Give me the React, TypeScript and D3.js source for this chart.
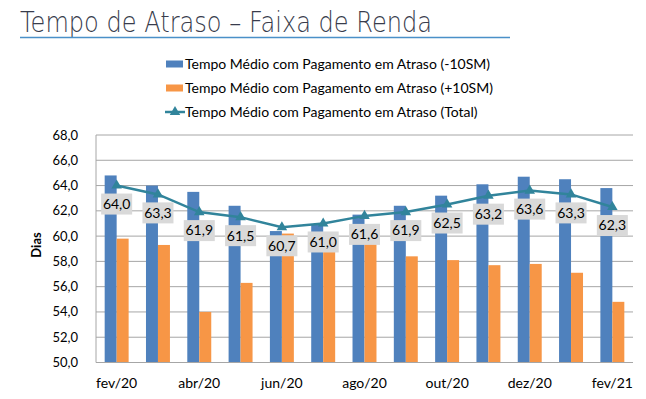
import React from "react";
import * as d3 from "d3";

const categories = ["fev/20","mar/20","abr/20","mai/20","jun/20","jul/20","ago/20","set/20","out/20","nov/20","dez/20","jan/21","fev/21"];
const tickLabels = ["fev/20","abr/20","jun/20","ago/20","out/20","dez/20","fev/21"];
const seriesLow = [64.8, 64.0, 63.5, 62.4, 60.4, 60.9, 61.7, 62.4, 63.2, 64.1, 64.7, 64.5, 63.8];
const seriesHigh = [59.8, 59.3, 54.0, 56.3, 60.2, 58.8, 59.4, 58.4, 58.1, 57.7, 57.8, 57.1, 54.8];
const seriesTotal = [64.0, 63.3, 61.9, 61.5, 60.7, 61.0, 61.6, 61.9, 62.5, 63.2, 63.6, 63.3, 62.3];
const yTicks = [50, 52, 54, 56, 58, 60, 62, 64, 66, 68];
const legendLabels = [
  "Tempo Médio com Pagamento em Atraso (-10SM)",
  "Tempo Médio com Pagamento em Atraso (+10SM)",
  "Tempo Médio com Pagamento em Atraso (Total)",
];

const W = 646, H = 399;
const L = 96, R = 633, T = 135, B = 362.5;
const BLUE = "#4F81BD", ORANGE = "#F79646", TEAL = "#31849B";
const FONT = "Lato, 'Open Sans', sans-serif";

const fmt = (v: number) => v.toFixed(1).replace(".", ",");

export default function App() {
  const x = d3.scaleBand<string>().domain(categories).range([L, R]).paddingInner(0.42).paddingOuter(0.21);
  const x1 = d3.scaleBand<string>().domain(["low", "high"]).range([0, x.bandwidth()]);
  const y = d3.scaleLinear().domain([50, 68]).range([B, T]);
  const cx = (c: string) => (x(c) as number) + x.bandwidth() / 2;
  const line = d3.line<number>().x((_, i) => cx(categories[i])).y((v) => y(v));
  const tri = d3.symbol().type(d3.symbolTriangle).size(48)();

  return (
    <svg width={W} height={H} style={{ position: "absolute", left: 0, top: 0, background: "#fff" }}>
      <rect x={0} y={0} width={W} height={H} fill="#fff" />
      {/* Title */}
      <text x={20} y={32} fontFamily="'DejaVu Sans', sans-serif" fontWeight={200} fontSize={28} fill="#383C4C" textLength={412} lengthAdjust="spacingAndGlyphs">
        Tempo de Atraso – Faixa de Renda
      </text>
      <line x1={20} x2={510} y1={37.5} y2={37.5} stroke="#4A90C8" strokeWidth={1.5} />

      {/* Legend */}
      {legendLabels.map((lab, i) => {
        const ly = 64 + i * 24;
        return (
          <g key={lab}>
            {i < 2 ? (
              <rect x={166} y={ly - 3.5} width={17} height={7} fill={i === 0 ? BLUE : ORANGE} />
            ) : (
              <g>
                <line x1={165} x2={185} y1={ly} y2={ly} stroke={TEAL} strokeWidth={2.5} />
                <path d={tri as string} transform={`translate(175,${ly})`} fill={TEAL} />
              </g>
            )}
            <text x={185} y={ly} dy="0.35em" fontFamily={FONT} fontSize={14} fill="#000">{lab}</text>
          </g>
        );
      })}

      {/* Gridlines */}
      {yTicks.map((t) => (
        <line key={t} x1={L} x2={R} y1={y(t)} y2={y(t)} stroke="#A6A6A6" strokeWidth={1} />
      ))}
      <line x1={L} x2={L} y1={T} y2={B} stroke="#A6A6A6" strokeWidth={1} />
      {yTicks.map((t) => (
        <text key={"yl" + t} x={78} y={y(t)} dy="0.35em" textAnchor="end" fontFamily={FONT} fontSize={13} fill="#000">{fmt(t)}</text>
      ))}
      <text transform={`translate(41,245) rotate(-90)`} textAnchor="middle" fontFamily={FONT} fontWeight={700} fontSize={13} fill="#000">Dias</text>

      {/* Bars */}
      {categories.map((c, i) => (
        <g key={c}>
          <rect x={(x(c) as number) + (x1("low") as number)} y={y(seriesLow[i])} width={x1.bandwidth()} height={B - y(seriesLow[i])} fill={BLUE} />
          <rect x={(x(c) as number) + (x1("high") as number)} y={y(seriesHigh[i])} width={x1.bandwidth()} height={B - y(seriesHigh[i])} fill={ORANGE} />
        </g>
      ))}
      <line x1={L} x2={R} y1={B} y2={B} stroke="#A6A6A6" strokeWidth={1} />

      {/* Line */}
      <path d={line(seriesTotal) as string} fill="none" stroke={TEAL} strokeWidth={2.5} />
      {seriesTotal.map((v, i) => (
        <path key={"m" + i} d={tri as string} transform={`translate(${cx(categories[i])},${y(v)})`} fill={TEAL} />
      ))}

      {/* Data labels */}
      {seriesTotal.map((v, i) => {
        const px = cx(categories[i]);
        const py = y(v) + 8;
        return (
          <g key={"l" + i}>
            <rect x={px - 15.5} y={py} width={31} height={21} fill="#D9D9D9" />
            <text x={px} y={py + 10.5} dy="0.35em" textAnchor="middle" fontFamily={FONT} fontSize={14} fill="#000">{fmt(v)}</text>
          </g>
        );
      })}

      {/* X labels */}
      {tickLabels.map((t) => (
        <text key={"x" + t} x={cx(t)} y={383} dy="0.35em" textAnchor="middle" fontFamily={FONT} fontSize={14} fill="#000">{t}</text>
      ))}
    </svg>
  );
}
